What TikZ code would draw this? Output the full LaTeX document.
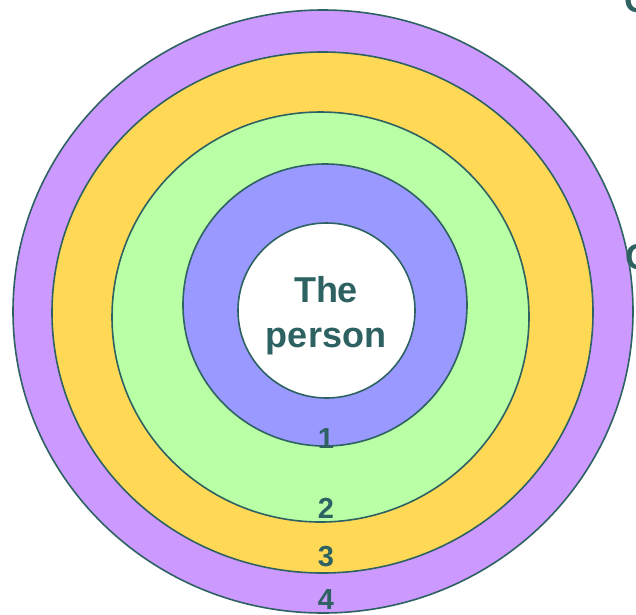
\documentclass[tikz,border=0pt]{standalone}
\usepackage{fontspec}
\setmainfont{Liberation Sans}
\definecolor{ink}{HTML}{2E6262}
\definecolor{cpurple}{HTML}{CC99FF}
\definecolor{cyellow}{HTML}{FFD955}
\definecolor{cgreen}{HTML}{B8FFA6}
\definecolor{cblue}{HTML}{9999FF}
\begin{document}
\begin{tikzpicture}[x=1pt,y=-1pt,
  ring/.style={draw=ink,line width=1.6pt},
  lbl/.style={text=ink,font=\bfseries\fontsize{29}{29}\selectfont,anchor=base,inner sep=0pt},
  title/.style={text=ink,font=\bfseries\fontsize{36}{45}\selectfont,align=center,anchor=base,inner sep=0pt}]
\useasboundingbox (0,0) rectangle (636,614);
\clip (0,0) rectangle (636,614);
\fill[white] (0,0) rectangle (636,614);
\path[ring,fill=cpurple] (323,311.5) ellipse [x radius=310pt, y radius=301.5pt];
\path[ring,fill=cyellow] (322.5,312.5) ellipse [x radius=270.5pt, y radius=260.5pt];
\path[ring,fill=cgreen] (320.5,317) ellipse [x radius=208.5pt, y radius=205pt];
\path[ring,fill=cblue] (325,305) ellipse [x radius=142pt, y radius=141pt];
\path[ring,fill=white] (326.5,310.5) ellipse [x radius=88.5pt, y radius=87.5pt];
\node[title] (person) at (326,347) {The\\person};
\node[lbl] (n1) at (326,448) {1};
\node[lbl] (n2) at (326,518) {2};
\node[lbl] (n3) at (326,566) {3};
\node[lbl] (n4) at (326,609) {4};
\node[title,anchor=base west] (c1) at (624,12) {C};
\node[title,anchor=base west] (c2) at (625,269) {C};
\end{tikzpicture}
\end{document}
